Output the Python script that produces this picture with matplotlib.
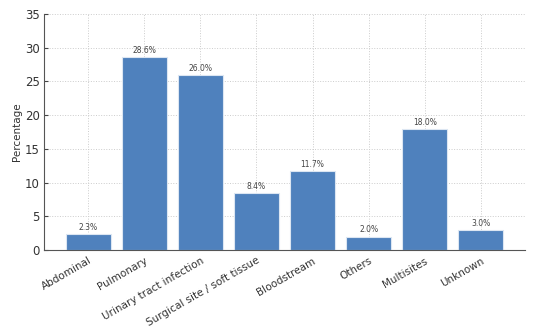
import matplotlib
matplotlib.use("Agg")
import matplotlib.pyplot as plt

categories = ["Abdominal", "Pulmonary", "Urinary tract infection", "Surgical site / soft tissue",
              "Bloodstream", "Others", "Multisites", "Unknown"]
values = [2.3, 28.6, 26.0, 8.4, 11.7, 2.0, 18.0, 3.0]

fig = plt.figure(figsize=(5.47, 3.27), dpi=100)
ax = fig.add_axes([44/547, 1-250/327, (525-44)/547, (250-14)/327])
bars = ax.bar(range(len(categories)), values, width=0.8, color="#4f81bd", edgecolor="#dce6f2", linewidth=0.8, zorder=2)
for i, v in enumerate(values):
    ax.text(i, v + 0.3, f"{v:.1f}%", ha="center", va="bottom", fontsize=5.5, color="#444444")
ax.set_ylim(0, 35)
ax.set_yticks(range(0, 36, 5))
ax.set_xticks(range(len(categories)))
ax.set_xticklabels(categories, rotation=30, ha="right", rotation_mode="anchor", fontsize=7.5, color="#333333")
ax.tick_params(axis="y", labelsize=8.5, direction="in", length=3, color="#444444", labelcolor="#333333", pad=3)
ax.tick_params(axis="x", direction="in", length=3, color="#444444", pad=4)
ax.set_ylabel("Percentage", fontsize=7.5, color="#333333", labelpad=2)
ax.grid(True, linestyle=":", color="#cccccc", linewidth=0.7, zorder=0)
ax.set_axisbelow(True)
for s in ["top", "right"]:
    ax.spines[s].set_visible(False)
for s in ["left", "bottom"]:
    ax.spines[s].set_color("#555555")
fig.savefig("out.png", dpi=100)
